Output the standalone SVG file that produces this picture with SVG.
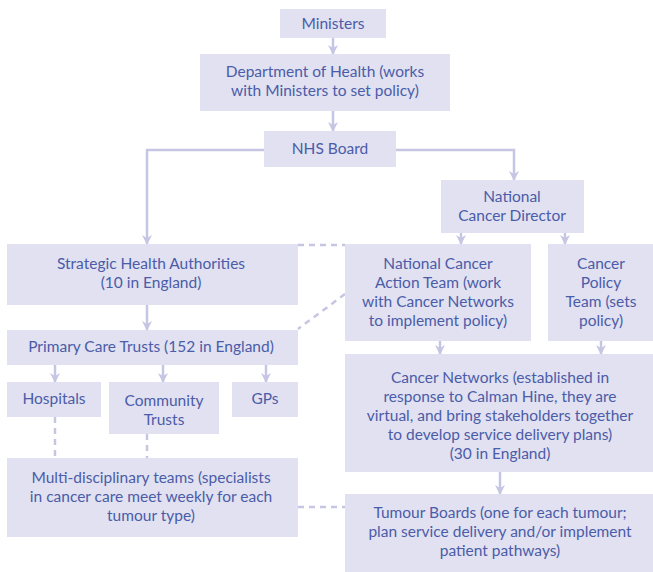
<svg xmlns="http://www.w3.org/2000/svg" width="653" height="572" viewBox="0 0 653 572">
<style>
.box{fill:#e1e1f1}
text{font-family:Lato,"Open Sans",sans-serif;font-size:15.5px;fill:#4b5ca8;text-anchor:middle}
.ln{fill:none;stroke:#c6c6e4;stroke-width:2.5}
.ds{fill:none;stroke:#c6c6e4;stroke-width:2.5;stroke-dasharray:6 5}
</style>
<defs>
<marker id="ah" viewBox="0 0 10 10" refX="9" refY="5" markerWidth="4" markerHeight="4" orient="auto" markerUnits="strokeWidth">
<path d="M0,0 L10,5 L0,10 L3,5 z" fill="#c6c6e4"/>
</marker>
</defs>
<rect width="653" height="572" fill="#fff"/>
<g id="connectors">
<path class="ln" d="M333,38 V54" marker-end="url(#ah)"/>
<path class="ln" d="M333,111 V131" marker-end="url(#ah)"/>
<path class="ln" d="M264,150 H147 V244" marker-end="url(#ah)"/>
<path class="ln" d="M396,150 H514 V180" marker-end="url(#ah)"/>
<path class="ln" d="M461,233 V244" marker-end="url(#ah)"/>
<path class="ln" d="M565,233 V244" marker-end="url(#ah)"/>
<path class="ln" d="M147,305 V330" marker-end="url(#ah)"/>
<path class="ln" d="M55,365 V382" marker-end="url(#ah)"/>
<path class="ln" d="M163,365 V382" marker-end="url(#ah)"/>
<path class="ln" d="M266,365 V382" marker-end="url(#ah)"/>
<path class="ln" d="M440,341 V354" marker-end="url(#ah)"/>
<path class="ln" d="M601,341 V354" marker-end="url(#ah)"/>
<path class="ln" d="M500,472 V494" marker-end="url(#ah)"/>
<path class="ds" d="M298,245 H345"/>
<path class="ds" d="M345,294 L298,329"/>
<path class="ds" d="M55,417 V458"/>
<path class="ds" d="M147,434 V458"/>
<path class="ds" d="M298,507 H345"/>
</g>
<g id="ministers"><rect class="box" x="280" y="9" width="106" height="29"/><text x="333" y="29">Ministers</text></g>
<g id="doh"><rect class="box" x="200" y="54" width="250" height="57"/><text x="325" y="77">Department of Health (works</text><text x="325" y="96">with Ministers to set policy)</text></g>
<g id="nhs"><rect class="box" x="264" y="131" width="132" height="36"/><text x="330" y="154">NHS Board</text></g>
<g id="ncd"><rect class="box" x="441" y="180" width="143" height="53"/><text x="512" y="202">National</text><text x="512" y="221">Cancer Director</text></g>
<g id="sha"><rect class="box" x="7" y="244" width="291" height="61"/><text x="151" y="269">Strategic Health Authorities</text><text x="151" y="288">(10 in England)</text></g>
<g id="ncat"><rect class="box" x="345" y="244" width="186" height="97"/><text x="438" y="269">National Cancer</text><text x="438" y="288">Action Team (work</text><text x="438" y="307">with Cancer Networks</text><text x="438" y="326">to implement policy)</text></g>
<g id="cpt"><rect class="box" x="548" y="244" width="105" height="97"/><text x="601" y="269">Cancer</text><text x="601" y="288">Policy</text><text x="601" y="307">Team (sets</text><text x="601" y="326">policy)</text></g>
<g id="pct"><rect class="box" x="7" y="330" width="291" height="35"/><text x="151" y="352">Primary Care Trusts (152 in England)</text></g>
<g id="hospitals"><rect class="box" x="7" y="382" width="94" height="35"/><text x="54" y="404">Hospitals</text></g>
<g id="community"><rect class="box" x="109" y="382" width="110" height="52"/><text x="164" y="406">Community</text><text x="164" y="425">Trusts</text></g>
<g id="gps"><rect class="box" x="232" y="382" width="66" height="35"/><text x="265" y="404">GPs</text></g>
<g id="cn"><rect class="box" x="345" y="354" width="308" height="118"/><text x="500" y="383">Cancer Networks (established in</text><text x="500" y="402">response to Calman Hine, they are</text><text x="500" y="421">virtual, and bring stakeholders together</text><text x="500" y="440">to develop service delivery plans)</text><text x="500" y="459">(30 in England)</text></g>
<g id="mdt"><rect class="box" x="7" y="458" width="291" height="79"/><text x="151" y="483">Multi-disciplinary teams (specialists</text><text x="151" y="502">in cancer care meet weekly for each</text><text x="151" y="521">tumour type)</text></g>
<g id="tb"><rect class="box" x="345" y="494" width="308" height="78"/><text x="500" y="518">Tumour Boards (one for each tumour;</text><text x="500" y="537">plan service delivery and/or implement</text><text x="500" y="556">patient pathways)</text></g>
</svg>
